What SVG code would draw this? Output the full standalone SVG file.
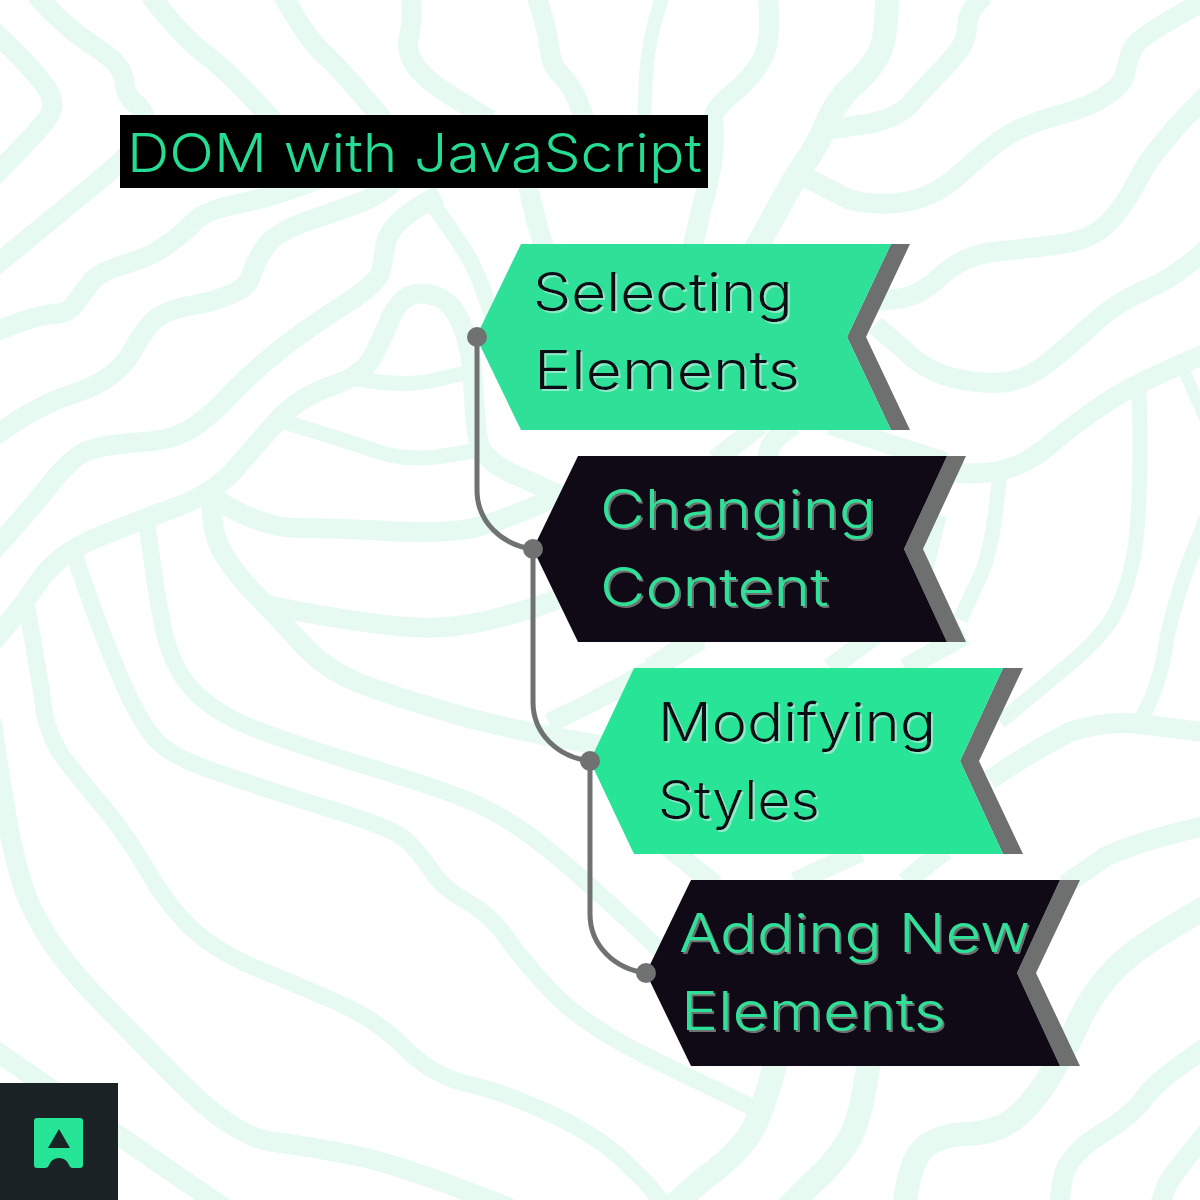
<svg xmlns="http://www.w3.org/2000/svg" width="1200" height="1200" viewBox="0 0 1200 1200">
<style>
.bg{fill:none;stroke:#e6faf2;stroke-width:20;stroke-linecap:butt;stroke-linejoin:round}
.t{font-family:"Inter","Open Sans","Liberation Sans",sans-serif;font-size:53px;font-weight:300}
.back{fill:#6d706f}
.green{fill:#2ee098}
.green2{fill:#28e496}
.dark{fill:#100916}
.ink{fill:#100916;filter:url(#sl)}
.mint{fill:#2ee098;filter:url(#sd)}
.dot{fill:#6f7271}
.link{fill:none;stroke:#6f7271;stroke-width:5}
</style>
<defs>
<filter id="sl" x="-5%" y="-10%" width="110%" height="125%"><feDropShadow dx="2" dy="2" stdDeviation="0" flood-color="#8feac7"/></filter>
<filter id="sd" x="-5%" y="-10%" width="110%" height="125%"><feDropShadow dx="2" dy="2" stdDeviation="0" flood-color="#6d706f"/></filter>
</defs>
<rect width="1200" height="1200" fill="#fff"/>
<g id="background" class="bg">
<path d="M-10,28 Q25,60 42,82 Q60,103 47,119 Q35,135 -10,180"/>
<path d="M36,-5 Q65,27 88,42 Q111,57 117,65 Q124,73 125,85 Q126,96 135,103 Q145,111 146,123 Q148,135 131,151 Q115,168 86,191 Q57,215 -10,270"/>
<path d="M150,-5 Q180,35 205,54 Q230,73 268,115 L300,150"/>
<path d="M-10,334 Q38,314 53,314 Q69,314 76,302 Q84,291 92,281 Q100,272 126,264 Q153,256 168,244 Q184,233 195,221 Q207,210 237,204 Q268,199 330,175"/>
<path d="M283,-5 Q306,38 325,55 Q344,73 379,115 L400,140"/>
<path d="M-10,439 Q38,405 67,396 Q96,387 111,375 Q126,364 134,348 Q142,333 153,321 Q165,310 189,306 Q214,302 231,294 Q249,287 252,273 Q256,260 266,246 Q276,233 302,223 Q329,214 356,204 Q383,195 400,175"/>
<path d="M-10,554 Q31,509 52,482 Q73,455 92,449 Q111,444 143,442 Q176,440 195,426 Q214,413 231,394 Q249,375 277,352 Q306,329 342,306 Q379,283 381,271 Q383,260 386,243 Q390,226 411,212 Q420,205 440,195"/>
<path stroke-width="16" d="M425,195 Q467,249 478,277 Q490,306 498,335"/>
<path d="M-10,646 Q22,607 40,580 Q58,554 96,538 Q134,522 174,508 Q214,494 237,467 Q260,440 279,419 Q298,398 331,386 Q364,375 373,356 Q383,337 390,319 Q398,302 409,296 Q421,291 436,296 Q452,302 461,323 Q471,344 473,382 Q475,421 478,440 Q482,459 509,472 L560,495"/>
<path stroke-width="15" d="M352,378 Q402,387 430,381 L480,370"/>
<path stroke-width="15" d="M278,420 Q344,440 373,450 Q402,461 436,457 L480,450"/>
<path d="M212,497 Q260,528 298,528 Q337,528 388,531 Q440,534 468,529 Q497,524 560,495"/>
<path d="M212,498 Q210,531 223,553 Q237,576 257,596 Q277,616 301,643 Q326,670 359,683 Q393,696 431,707 Q469,719 502,726 Q536,734 600,745"/>
<path d="M266,605 Q402,632 446,627 Q491,624 570,595"/>
<path stroke-width="17" d="M146,515 Q154,580 162,622 Q170,665 192,689 Q214,714 263,732 Q312,750 379,770 Q446,790 479,805 Q513,821 546,848 Q580,875 660,950"/>
<path stroke-width="17" d="M72,548 Q98,625 118,672 Q138,719 154,738 Q170,757 219,773 Q268,790 330,809 Q393,828 406,840 Q420,853 431,870 Q442,888 466,901 Q491,915 506,937 Q522,960 551,991 Q580,1022 640,1053 L770,1116"/>
<path stroke-width="17" d="M25,597 Q40,679 44,710 Q49,741 69,765 Q89,790 109,814 Q129,839 147,870 Q165,902 189,926 Q214,951 263,971 Q312,991 345,1006 Q379,1022 406,1049 Q433,1076 468,1084 Q504,1092 553,1115 Q603,1138 632,1169 Q650,1185 666,1208"/>
<path d="M-8,720 Q9,853 27,897 Q45,942 89,989 Q134,1036 185,1087 Q237,1138 274,1142 Q312,1147 357,1156 Q402,1165 510,1208"/>
<path d="M-10,1047 L230,1212"/>
<path d="M411,-5 Q413,23 409,36 Q405,50 415,65 Q425,80 453,97 L490,120"/>
<path d="M536,-5 Q547,27 549,46 Q551,65 560,74 Q570,84 577,99 L585,120"/>
<path d="M528,185 Q535,220 545,250"/>
<path stroke-width="14" d="M663,-5 Q648,38 646,76 L644,120"/>
<path d="M768,-5 Q772,42 762,59 Q753,77 732,94 Q711,111 713,122 Q715,134 713,155 Q711,176 701,210 L692,250"/>
<path stroke-width="24" d="M887,-5 Q887,42 877,57 Q868,73 852,86 Q837,100 827,122 Q818,145 804,164 Q791,184 776,212 L755,250"/>
<path d="M985,-5 Q967,11 967,26 Q967,42 955,55 Q944,69 932,80 Q921,92 911,103 Q902,115 873,123 L825,130"/>
<path d="M1210,-2 Q1143,34 1135,45 Q1128,57 1126,70 Q1124,84 1107,95 Q1090,107 1055,116 Q1021,126 1002,139 Q983,153 960,174 Q937,195 910,201 Q883,207 850,200 L805,177"/>
<path d="M1210,92 Q1159,142 1141,174 Q1124,207 1107,224 Q1090,241 1055,245 Q1021,249 992,252 Q964,256 942,275 Q921,295 902,298 L870,302"/>
<path d="M1210,246 Q1174,279 1145,290 Q1117,302 1094,323 Q1071,344 1050,361 Q1029,379 1006,382 Q983,385 954,378 Q925,371 904,350 L875,325"/>
<path d="M1210,352 Q1136,383 1107,402 Q1078,421 1053,442 Q1029,463 1006,469 Q983,476 950,472"/>
<path stroke-width="15" d="M1139,385 Q1142,497 1135,548 Q1128,590 1114,615 Q1100,640 1060,672 L1000,722"/>
<path stroke-width="15" d="M1000,470 Q994,543 982,572 L960,620"/>
<path stroke-width="12" d="M1182,366 L1210,430"/>
<path stroke-width="15" d="M1210,510 Q1172,600 1165,650 Q1155,705 1133,728"/>
<path d="M990,780 Q1030,752 1070,732 Q1105,720 1140,724 L1210,733"/>
<path d="M1210,825 Q1140,840 1105,857 L1065,885"/>
<path stroke-width="24" d="M1210,905 Q1140,944 1117,967 Q1094,990 1081,1017 Q1069,1044 1051,1074 Q1033,1104 1015,1118 Q997,1133 965,1134 Q933,1136 920,1152 Q908,1169 904,1210"/>
<path d="M1210,1045 Q1158,1079 1145,1097 Q1133,1115 1101,1134 Q1069,1154 1063,1177 L1058,1210"/>
<path d="M1210,1129 Q1176,1169 1167,1185 L1158,1210"/>
<path stroke-width="24" d="M869,1060 Q861,1122 847,1143 Q833,1165 813,1182 L785,1210"/>
<path stroke-width="24" d="M776,1060 Q761,1122 745,1141 Q729,1161 702,1180 L668,1210"/>
<path d="M715,460 L760,425"/>
<path d="M768,460 Q766,440 795,425"/>
<path d="M830,425 L945,462"/>
<path d="M650,668 L700,635"/>
<path d="M830,668 L875,635"/>
<path d="M905,668 L965,635"/>
<path d="M660,840 L715,885"/>
<path d="M795,882 L860,852"/>
<path d="M905,882 L945,850"/>
<path stroke-width="14" d="M940,515 L925,575"/>
<path d="M549,723 Q625,688 700,640"/>
</g>
<g id="title">
<rect x="120" y="115" width="588" height="73" fill="#000"/>
<text class="t" x="127" y="172" fill="#26dc93" textLength="575" lengthAdjust="spacingAndGlyphs">DOM with JavaScript</text>
</g>
<g id="connectors">
<path class="link" d="M477,337 V490 C477,522 502,545 533,549"/>
<path class="link" d="M533,549 V702 C533,734 558,757 590,761"/>
<path class="link" d="M590,761 V914 C590,946 615,969 646,973"/>
</g>
<g id="node-selecting">
<polygon class="back" points="891,244 910,244 866,337 910,430 891,430 847,337"/>
<polygon class="green" points="521,244 891,244 847,337 891,430 521,430 476,337"/>
<circle class="dot" cx="477" cy="337" r="10"/>
<text class="t ink" x="533" y="311" textLength="260" lengthAdjust="spacingAndGlyphs">Selecting</text>
<text class="t ink" x="534" y="389" textLength="266" lengthAdjust="spacingAndGlyphs">Elements</text>
</g>
<g id="node-changing">
<polygon class="back" points="947,456 966,456 923,549 966,642 947,642 904,549"/>
<polygon class="dark" points="578,456 947,456 904,549 947,642 578,642 533,549"/>
<circle class="dot" cx="533" cy="549" r="10"/>
<text class="t mint" x="600" y="528" textLength="276" lengthAdjust="spacingAndGlyphs">Changing</text>
<text class="t mint" x="600" y="606" textLength="229" lengthAdjust="spacingAndGlyphs">Content</text>
</g>
<g id="node-modifying">
<polygon class="back" points="1003,668 1023,668 979,761 1023,854 1003,854 960,761"/>
<polygon class="green2" points="634,668 1003,668 960,761 1003,854 634,854 590,761"/>
<circle class="dot" cx="590" cy="761" r="10"/>
<text class="t ink" x="658" y="741" textLength="278" lengthAdjust="spacingAndGlyphs">Modifying</text>
<text class="t ink" x="658" y="819" textLength="162" lengthAdjust="spacingAndGlyphs">Styles</text>
</g>
<g id="node-adding">
<polygon class="back" points="1060,880 1080,880 1036,973 1080,1066 1060,1066 1017,973"/>
<polygon class="dark" points="691,880 1060,880 1017,973 1060,1066 691,1066 646,973"/>
<circle class="dot" cx="646" cy="973" r="10"/>
<text class="t mint" x="679" y="952" textLength="351" lengthAdjust="spacingAndGlyphs">Adding New</text>
<text class="t mint" x="681" y="1030" textLength="265" lengthAdjust="spacingAndGlyphs">Elements</text>
</g>
<g id="logo">
<rect x="0" y="1083" width="118" height="117" fill="#1a2226"/>
<path fill="#26e596" d="M37,1118 H80 Q83,1118 83,1121 V1165 Q83,1168 80,1168 H73 Q70,1168 69,1165 Q66,1158 59,1158 Q52,1158 49,1165 Q48,1168 45,1168 H37 Q34,1168 34,1165 V1121 Q34,1118 37,1118 Z"/>
<polygon fill="#1a2226" points="59,1129 48,1148 70,1148"/>
</g>
</svg>
